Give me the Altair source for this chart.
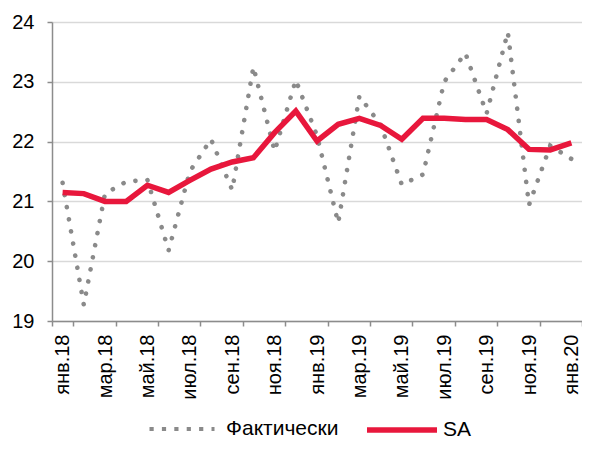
import altair as alt
import pandas as pd

months = ["янв.18", "фев.18", "мар.18", "апр.18", "май.18", "июн.18", "июл.18", "авг.18",
          "сен.18", "окт.18", "ноя.18", "дек.18", "янв.19", "фев.19", "мар.19", "апр.19",
          "май.19", "июн.19", "июл.19", "авг.19", "сен.19", "окт.19", "ноя.19", "дек.19",
          "янв.20"]
fact = [21.31, 19.27, 21.13, 21.33, 21.36, 20.18, 21.50, 22.04, 21.19, 23.25, 21.84, 23.03,
        22.10, 20.64, 22.76, 22.28, 21.28, 21.45, 23.00, 23.48, 22.47, 23.83, 20.94, 21.93,
        21.71]
sa = [21.15, 21.13, 21.00, 21.00, 21.27, 21.15, 21.35, 21.54, 21.66, 21.73, 22.15, 22.51,
      22.01, 22.29, 22.39, 22.27, 22.04, 22.39, 22.39, 22.37, 22.37, 22.20, 21.87, 21.86,
      21.98]
y_ticks = [19, 20, 21, 22, 23, 24]
series_names = ["Фактически", "SA"]

GREY = "#8a8a8a"
RED = "#e8173c"
FONT = "Liberation Sans"

df_fact = pd.DataFrame({"month": months, "value": fact, "series": series_names[0]})
df_sa = pd.DataFrame({"month": months, "value": sa, "series": series_names[1]})

x_enc = alt.X(
    "month:N",
    sort=months,
    scale=alt.Scale(paddingInner=0, paddingOuter=0),
    axis=alt.Axis(
        title=None,
        values=months[::2],
        tickBand="extent",
        labelAngle=270,
        labelFontSize=20,
        labelFont=FONT,
        labelColor="#000000",
        labelPadding=8,
        tickSize=5,
        tickColor="#8c8c8c",
        tickWidth=1.5,
        domainColor="#8c8c8c",
        domainWidth=1.5,
        grid=False,
    ),
)
y_enc = alt.Y(
    "value:Q",
    scale=alt.Scale(domain=[19, 24], nice=False, zero=False),
    axis=alt.Axis(
        title=None,
        values=y_ticks,
        labelFontSize=20,
        labelFont=FONT,
        labelColor="#000000",
        labelPadding=13,
        tickSize=5,
        tickColor="#8c8c8c",
        tickWidth=1.5,
        domainColor="#8c8c8c",
        domainWidth=1.5,
        grid=True,
        gridColor="#d9d9d9",
        gridWidth=1.5,
    ),
)

fact_line = alt.Chart(df_fact).mark_line(
    strokeDash=[0.1, 12.2], strokeCap="round", strokeWidth=4.6
).encode(
    x=x_enc,
    y=y_enc,
    color=alt.Color(
        "series:N",
        scale=alt.Scale(domain=[series_names[0]], range=[GREY]),
        legend=alt.Legend(
            title=None,
            orient="none",
            legendX=95,
            legendY=372,
            symbolType="stroke",
            symbolSize=4225,
            symbolDash=[4.2, 8.2],
            symbolStrokeWidth=4.2,
            labelFontSize=21,
            labelFont=FONT,
            labelColor="#000000",
            labelOffset=9,
            padding=0,
        ),
    ),
)

sa_line = alt.Chart(df_sa).mark_line(strokeWidth=5.5, strokeJoin="miter").encode(
    x=x_enc,
    y=y_enc,
    color=alt.Color(
        "series:N",
        scale=alt.Scale(domain=[series_names[1]], range=[RED]),
        legend=alt.Legend(
            title=None,
            orient="none",
            legendX=312,
            legendY=370,
            symbolType="stroke",
            symbolSize=4900,
            symbolStrokeWidth=5.5,
            labelFontSize=21,
            labelFont=FONT,
            labelColor="#000000",
            labelOffset=3,
            padding=0,
        ),
    ),
)

chart = (
    alt.layer(fact_line, sa_line)
    .resolve_scale(color="independent")
    .properties(
        width=530,
        height=299,
        autosize=alt.AutoSizeParams(type="none"),
        padding={"left": 44, "top": 14, "right": 0, "bottom": 120},
        background="white",
    )
    .configure_view(stroke=None)
)

chart.save("out.html", embed_options={"renderer": "svg", "actions": False})
